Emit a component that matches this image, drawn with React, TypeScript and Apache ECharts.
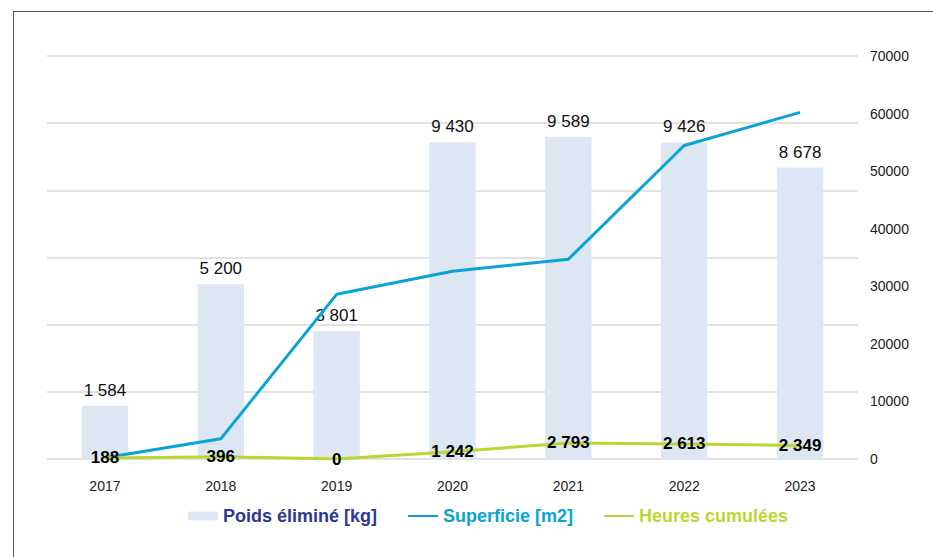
import React, { useEffect, useRef } from "react";
import * as echarts from "echarts";

const years = ["2017", "2018", "2019", "2020", "2021", "2022", "2023"];
const poids = [1584, 5200, 3801, 9430, 9589, 9426, 8678];
const superficie = [200, 3500, 28600, 32600, 34700, 54450, 60200];
const heures = [188, 396, 0, 1242, 2793, 2613, 2349];

const fmt = (v: number) => {
  const s = String(Math.round(v));
  return s.replace(/\B(?=(\d{3})+(?!\d))/g, " ");
};

export default function App() {
  const ref = useRef<HTMLDivElement>(null);
  useEffect(() => {
    document.body.style.margin = "0";
    const chart = echarts.init(ref.current!, null, { renderer: "svg" });
    const font = "Liberation Sans, Arial, sans-serif";
    chart.setOption({
      animation: false,
      textStyle: { fontFamily: font },
      graphic: [
        { type: "line", shape: { x1: 13.5, y1: 11.5, x2: 13.5, y2: 557 }, style: { stroke: "#555", lineWidth: 1 } },
        { type: "line", shape: { x1: 13, y1: 11.5, x2: 933, y2: 11.5 }, style: { stroke: "#555", lineWidth: 1 } },
      ],
      grid: { left: 47, right: 75, top: 56, bottom: 98, containLabel: false },
      legend: {
        bottom: 27,
        left: 183,
        itemGap: 30,
        itemWidth: 30,
        itemHeight: 9,
        textStyle: { fontSize: 18, fontWeight: "bold", fontFamily: font },
        data: [
          { name: "Poids éliminé [kg]", textStyle: { color: "#2B3990" } },
          { name: "Superficie [m2]", textStyle: { color: "#0AA3D8" }, itemStyle: { opacity: 0 } },
          { name: "Heures cumulées", textStyle: { color: "#BCD631" }, itemStyle: { opacity: 0 } },
        ],
      },
      xAxis: {
        type: "category",
        data: years,
        axisLine: { show: false },
        axisTick: { show: false },
        axisLabel: { color: "#222", fontSize: 14, margin: 20 },
      },
      yAxis: [
        {
          type: "value",
          min: 0,
          max: 12000,
          interval: 2000,
          axisLabel: { show: false },
          axisLine: { show: false },
          axisTick: { show: false },
          splitLine: { lineStyle: { color: "#d9d9d9", width: 1.5 } },
        },
        {
          type: "value",
          min: 0,
          max: 70000,
          interval: 10000,
          position: "right",
          axisLabel: { color: "#222", fontSize: 14, margin: 12, formatter: (v: number) => String(v) },
          axisLine: { show: false },
          axisTick: { show: false },
          splitLine: { show: false },
        },
      ],
      series: [
        {
          name: "Poids éliminé [kg]",
          type: "bar",
          yAxisIndex: 0,
          data: poids,
          barWidth: "40%",
          itemStyle: { color: "#DCE7F3" },
          label: {
            show: true,
            position: "top",
            distance: 7,
            color: "#111",
            fontSize: 17,
            formatter: (p: any) => fmt(p.value),
          },
        },
        {
          name: "Superficie [m2]",
          type: "line",
          yAxisIndex: 1,
          data: superficie,
          symbol: "none",
          lineStyle: { color: "#0AA3D8", width: 3 },
          itemStyle: { color: "#0AA3D8" },
        },
        {
          name: "Heures cumulées",
          type: "line",
          yAxisIndex: 1,
          data: heures,
          symbol: "circle",
          symbolSize: 2,
          showSymbol: true,
          lineStyle: { color: "#BCD631", width: 3 },
          itemStyle: { color: "#BCD631" },
          label: {
            show: true,
            position: "inside",
            color: "#000",
            fontSize: 17,
            fontWeight: "bold",
            formatter: (p: any) => fmt(p.value),
          },
          z: 5,
        },
      ],
    });
    return () => chart.dispose();
  }, []);
  return <div ref={ref} style={{ width: 933, height: 557 }} />;
}
